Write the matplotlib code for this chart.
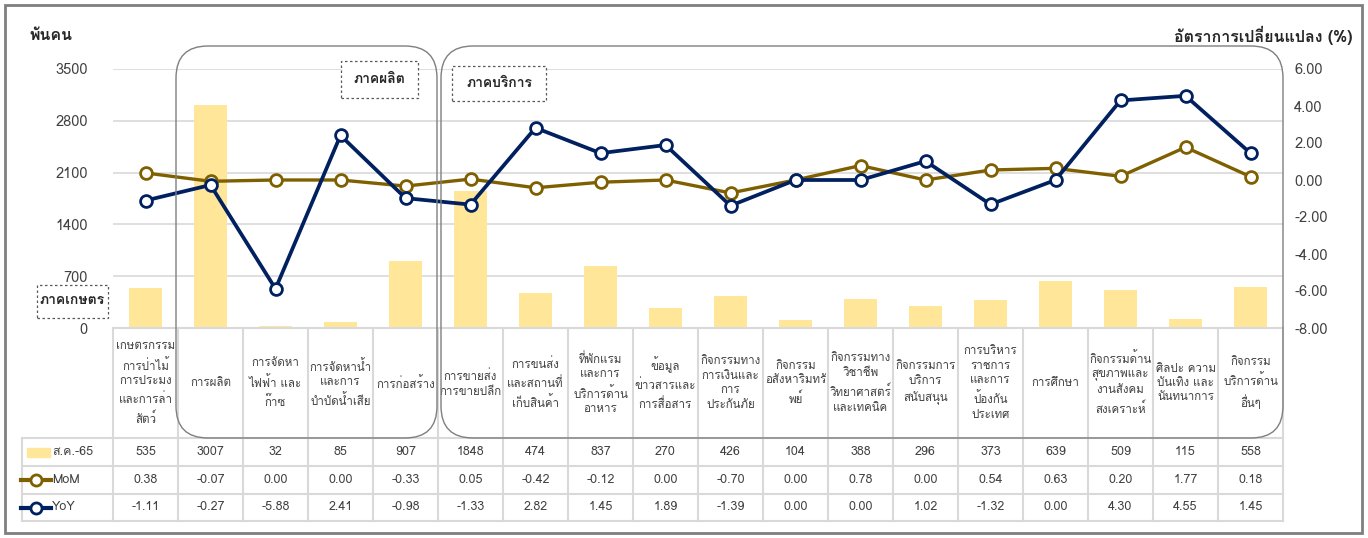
import matplotlib
matplotlib.use("Agg")
import matplotlib.pyplot as plt
import matplotlib.transforms as mtransforms
from matplotlib import font_manager
from matplotlib.ft2font import FT2Font
from matplotlib.patches import FancyBboxPatch, Rectangle
from matplotlib.lines import Line2D

# pick a font that has Thai glyphs, if any is installed
thai = None
for f in font_manager.fontManager.ttflist:
    try:
        if 0x0E01 in FT2Font(f.fname).get_charmap():
            thai = f.name
            break
    except Exception:
        pass
plt.rcParams['font.family'] = [thai, 'DejaVu Sans'] if thai else ['DejaVu Sans']

# data
categories = [
    "เกษตรกรรม\nการป่าไม้\nการประมง\nและการล่า\nสัตว์",
    "การผลิต",
    "การจัดหา\nไฟฟ้า และ\nก๊าซ",
    "การจัดหาน้ำ\nและการ\nบำบัดน้ำเสีย",
    "การก่อสร้าง",
    "การขายส่ง\nการขายปลีก",
    "การขนส่ง\nและสถานที่\nเก็บสินค้า",
    "ที่พักแรม\nและการ\nบริการด้าน\nอาหาร",
    "ข้อมูล\nข่าวสารและ\nการสื่อสาร",
    "กิจกรรมทาง\nการเงินและ\nการ\nประกันภัย",
    "กิจกรรม\nอสังหาริมทรั\nพย์",
    "กิจกรรมทาง\nวิชาชีพ\nวิทยาศาสตร์\nและเทคนิค",
    "กิจกรรมการ\nบริการ\nสนับสนุน",
    "การบริหาร\nราชการ\nและการ\nป้องกัน\nประเทศ",
    "การศึกษา",
    "กิจกรรมด้าน\nสุขภาพและ\nงานสังคม\nสงเคราะห์",
    "ศิลปะ ความ\nบันเทิง และ\nนันทนาการ",
    "กิจกรรม\nบริการด้าน\nอื่นๆ",
]
employed = [535, 3007, 32, 85, 907, 1848, 474, 837, 270, 426, 104, 388, 296, 373, 639, 509, 115, 558]
mom = [0.38, -0.07, 0.00, 0.00, -0.33, 0.05, -0.42, -0.12, 0.00, -0.70, 0.00, 0.78, 0.00, 0.54, 0.63, 0.20, 1.77, 0.18]
yoy = [-1.11, -0.27, -5.88, 2.41, -0.98, -1.33, 2.82, 1.45, 1.89, -1.39, 0.00, 0.00, 1.02, -1.32, 0.00, 4.30, 4.55, 1.45]
series_names = ["ส.ค.-65", "MoM", "YoY"]
left_ticks = [0, 700, 1400, 2100, 2800, 3500]
right_ticks = [-8, -6, -4, -2, 0, 2, 4, 6]

BAR = '#FFE699'
MOM_C = '#7F6000'
YOY_C = '#002060'
GRID = '#D9D9D9'
TXT = '#404040'

W, H = 1368, 538
fig = plt.figure(figsize=(W / 100, H / 100), dpi=100)

def fx(px):
    return px / W

def fy(py):
    return 1 - py / H

ax_l, ax_r, ax_t, ax_b = 113, 1283, 69, 328
ax = fig.add_axes([fx(ax_l), fy(ax_b), fx(ax_r - ax_l), (ax_b - ax_t) / H])
ax2 = ax.twinx()

x = list(range(len(categories)))
ax.bar(x, employed, width=0.5, color=BAR, zorder=2)
ax.set_xlim(-0.5, len(categories) - 0.5)
ax.set_ylim(0, 3500)
ax.set_yticks(left_ticks)
ax.set_xticks([])
ax.grid(axis='y', color=GRID, lw=1.2, zorder=0)
ax.set_axisbelow(True)
for s in ['top', 'left', 'right']:
    ax.spines[s].set_visible(False)
ax.spines['bottom'].set_color(GRID)
ax.spines['bottom'].set_linewidth(1.5)
ax.tick_params(axis='y', length=0, pad=18, labelsize=10.5, labelcolor=TXT)

ax2.plot(x, mom, color=MOM_C, lw=2.4, marker='o', ms=8.5, mfc='white', mec=MOM_C, mew=2, zorder=3)
ax2.plot(x, yoy, color=YOY_C, lw=2.7, marker='o', ms=8.5, mfc='white', mec=YOY_C, mew=2, zorder=4)
ax2.set_ylim(-8, 6)
ax2.set_yticks(right_ticks)
ax2.set_yticklabels([f"{v:.2f}" for v in right_ticks])
for s in ax2.spines.values():
    s.set_visible(False)
ax2.tick_params(axis='y', length=0, pad=8, labelsize=10.5, labelcolor=TXT)

# axis titles
fig.text(fx(30), fy(35), "พันคน", fontsize=11.5, fontweight='bold', va='center', ha='left', color='#262626')
fig.text(fx(1352), fy(35), "อัตราการเปลี่ยนแปลง (%)", fontsize=11.5, fontweight='bold',
         va='center', ha='right', color='#262626')

# table under the chart
tr = mtransforms.blended_transform_factory(ax.transData, fig.transFigure)
row_y = [328, 438, 466, 494, 521]
for i in range(len(categories) + 1):
    fig.add_artist(Line2D([i - 0.5, i - 0.5], [fy(328), fy(521)], transform=tr, color=GRID, lw=1.5))
fig.add_artist(Line2D([fx(22), fx(22)], [fy(438), fy(521)], color=GRID, lw=1.5))
for yy in row_y[1:]:
    fig.add_artist(Line2D([fx(22), fx(ax_r)], [fy(yy), fy(yy)], color=GRID, lw=1.5))

for i, c in enumerate(categories):
    fig.text(i, fy(383), c, transform=tr, ha='center', va='center', fontsize=8.3,
             color=TXT, linespacing=1.55)
rows = [[str(v) for v in employed], [f"{v:.2f}" for v in mom], [f"{v:.2f}" for v in yoy]]
for r, vals in enumerate(rows):
    yc = (row_y[r + 1] + row_y[r + 2]) / 2
    for i, v in enumerate(vals):
        fig.text(i, fy(yc), v, transform=tr, ha='center', va='center', fontsize=9, color=TXT)
    fig.text(fx(52), fy(yc), series_names[r], ha='left', va='center', fontsize=9, color=TXT)

# legend keys in the first column
fig.add_artist(Rectangle((fx(27), fy(457)), fx(23), 9 / H, color=BAR))
for r, col in [(1, MOM_C), (2, YOY_C)]:
    yc = (row_y[r + 1] + row_y[r + 2]) / 2
    fig.add_artist(Line2D([fx(21), fx(51)], [fy(yc), fy(yc)], color=col, lw=3))
    fig.add_artist(Line2D([fx(36)], [fy(yc)], marker='o', ms=8, mfc='white', mec=col, mew=2))

# rounded group boxes, in inches so corners stay round
inch = fig.dpi_scale_trans
def rbox(x0, y0, x1, y1):
    p = FancyBboxPatch((x0 / 100, (H - y1) / 100), (x1 - x0) / 100, (y1 - y0) / 100,
                       boxstyle="round,pad=0,rounding_size=0.32", transform=inch,
                       fill=False, ec='#7F7F7F', lw=1.0, zorder=5)
    fig.add_artist(p)

rbox(176, 46, 437, 438)
rbox(441, 46, 1283, 438)

def dbox(x0, y0, x1, y1, label):
    fig.add_artist(Rectangle((fx(x0), fy(y1)), fx(x1 - x0), (y1 - y0) / H, fill=True, fc='white',
                             ec='#595959', lw=0.9, ls=(0, (2, 2)), zorder=6))
    fig.text(fx((x0 + x1) / 2), fy((y0 + y1) / 2), label, ha='center', va='center',
             fontsize=10, fontweight='bold', color='#262626', zorder=7)

dbox(341, 61, 418, 98, "ภาคผลิต")
dbox(452, 66, 546, 101, "ภาคบริการ")
dbox(37, 285, 108, 318, "ภาคเกษตร")

# outer frame
fig.add_artist(Rectangle((fx(5), fy(533)), fx(1357), 528 / H, fill=False, ec='#7F7F7F', lw=2))

fig.savefig("out.png", dpi=100)
